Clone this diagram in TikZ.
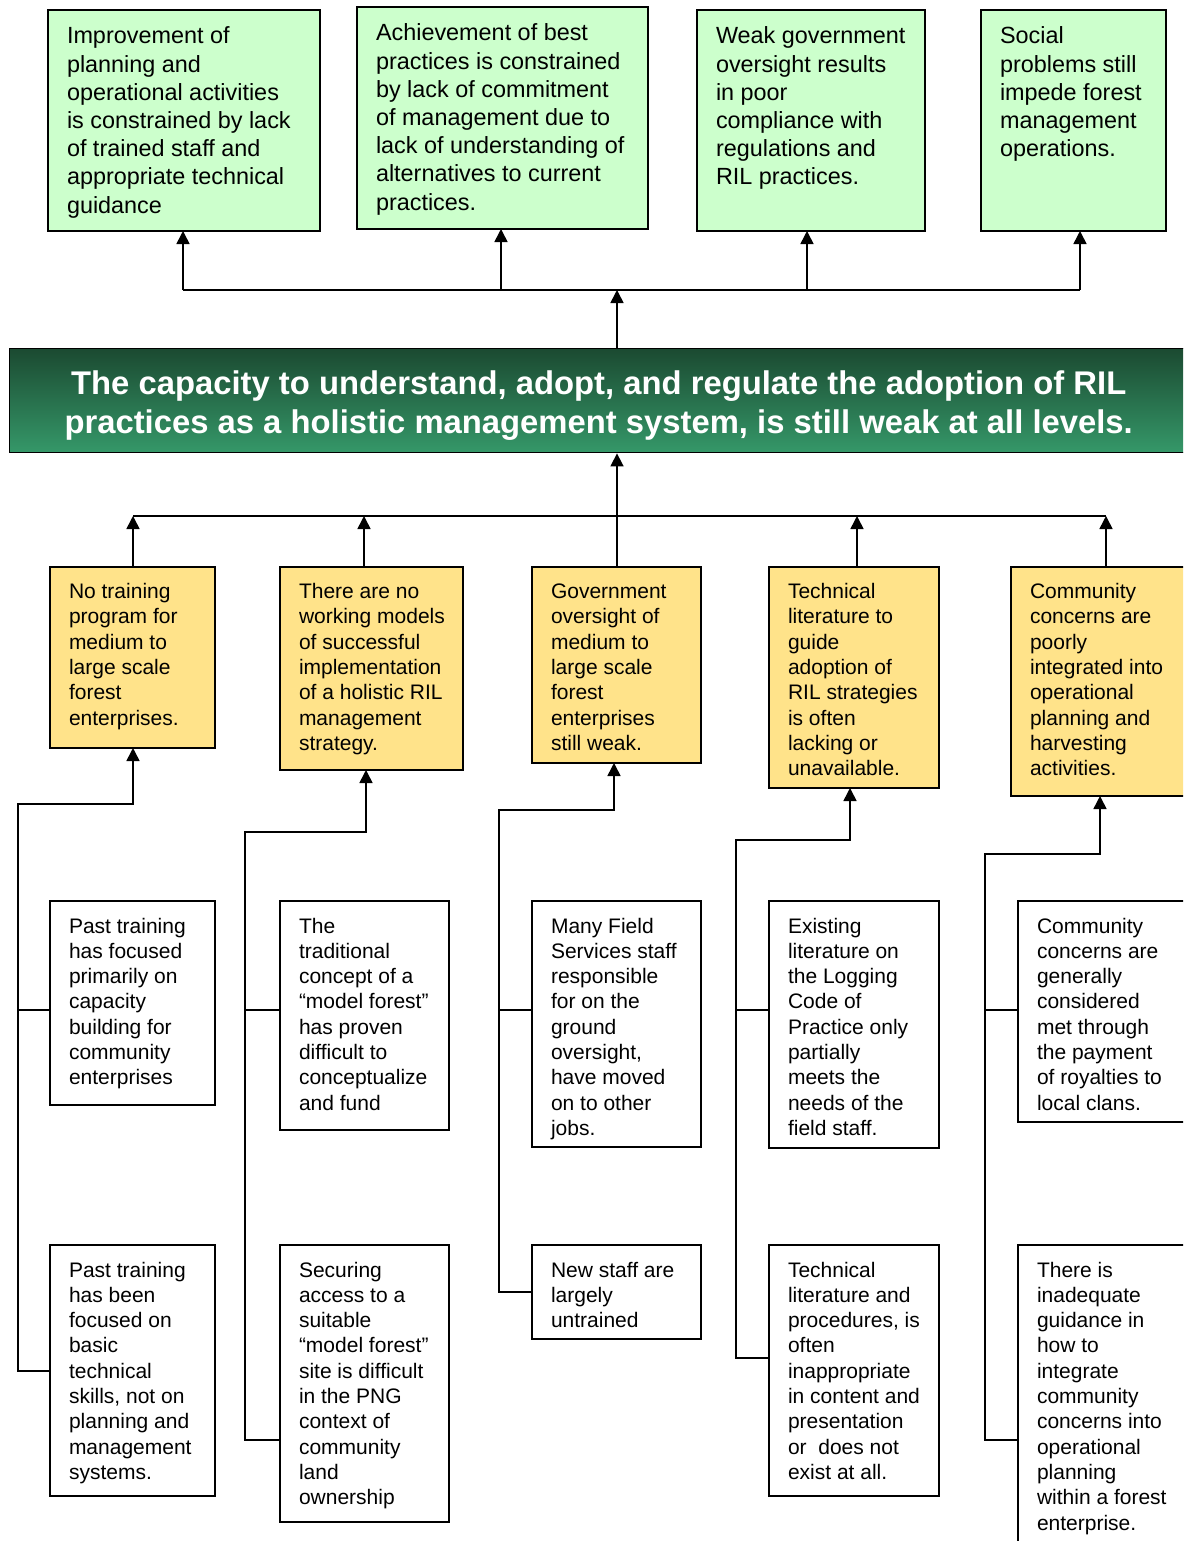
\documentclass[tikz,border=0pt]{standalone}
\usepackage{fontspec}
\setmainfont{Liberation Sans}
\usetikzlibrary{arrows.meta}
\definecolor{gbox}{HTML}{CCFFCC}
\definecolor{ybox}{HTML}{FFE38A}
\definecolor{bantop}{RGB}{27,74,49}
\definecolor{banbot}{RGB}{53,152,105}
\newcommand\bxt[4]{\parbox[c][#2pt][t]{#1pt}{\raggedright\leftskip=19pt\rule{0pt}{#3pt}#4}}
\begin{document}
\begin{tikzpicture}[x=1pt,y=-1pt,
  box/.style={draw=black, line width=1.6pt, anchor=north west, inner sep=0pt, outer sep=0pt},
  gbx/.style={box, fill=gbox, font=\fontsize{23.4}{28.2}\selectfont},
  ybx/.style={box, fill=ybox, font=\fontsize{21}{25.3}\selectfont},
  wbx/.style={box, fill=white, font=\fontsize{21}{25.3}\selectfont},
  ln/.style={line width=1.6pt},
  arr/.style={line width=1.6pt, -{Triangle[length=13pt,width=13pt]}},
]
\useasboundingbox (0,0) rectangle (1183,1541);
\clip (0,0) rectangle (1183,1541);
\fill[white] (0,0) rectangle (1183,1541);

% top green boxes
\node[gbx] (g1) at (48,10) {\bxt{272}{221}{34}{Improvement of\\planning and\\operational activities\\is constrained by lack\\of trained staff and\\appropriate technical\\guidance}};
\node[gbx] (g2) at (357,7) {\bxt{291}{222}{34}{Achievement of best\\practices is constrained\\by lack of commitment\\of management due to\\lack of understanding of\\alternatives to current\\practices.}};
\node[gbx] (g3) at (697,10) {\bxt{228}{221}{34}{Weak government\\oversight results\\in poor\\compliance with\\regulations and\\RIL practices.}};
\node[gbx] (g4) at (981,10) {\bxt{185}{221}{34}{Social\\problems still\\impede forest\\management\\operations.}};

% banner
\node[draw=black, line width=1.4pt, top color=bantop, bottom color=banbot, anchor=north west,
      minimum width=1178pt, minimum height=104pt, inner sep=0pt] (ban) at (9,348) {};
\node[align=center, text=white, inner sep=0pt, font=\fontsize{32.8}{39}\selectfont\bfseries]
  (bantxt) at ([yshift=-5pt]ban.center)
  {The capacity to understand, adopt, and regulate the adoption of RIL\\practices as a holistic management system, is still weak at all levels.};

% yellow boxes
\node[ybx] (y1) at (50,567) {\bxt{165}{181}{31.5}{No training\\program for\\medium to\\large scale\\forest\\enterprises.}};
\node[ybx] (y2) at (280,567) {\bxt{183}{203}{31.5}{There are no\\working models\\of successful\\implementation\\of a holistic RIL\\management\\strategy.}};
\node[ybx] (y3) at (532,567) {\bxt{169}{196}{31.5}{Government\\oversight of\\medium to\\large scale\\forest\\enterprises\\still weak.}};
\node[ybx] (y4) at (769,567) {\bxt{170}{221}{31.5}{Technical\\literature to\\guide\\adoption of\\RIL strategies\\is often\\lacking or\\unavailable.}};
\node[ybx] (y5) at (1011,567) {\bxt{180}{229}{31.5}{Community\\concerns are\\poorly\\integrated into\\operational\\planning and\\harvesting\\activities.}};

% white boxes row 1
\node[wbx] (w1a) at (50,901) {\bxt{165}{204}{32}{Past training\\has focused\\primarily on\\capacity\\building for\\community\\enterprises}};
\node[wbx] (w2a) at (280,901) {\bxt{169}{229}{32}{The\\traditional\\concept of a\\“model forest”\\has proven\\difficult to\\conceptualize\\and fund}};
\node[wbx] (w3a) at (532,901) {\bxt{169}{246}{32}{Many Field\\Services staff\\responsible\\for on the\\ground\\oversight,\\have moved\\on to other\\jobs.}};
\node[wbx] (w4a) at (769,901) {\bxt{170}{247}{32}{Existing\\literature on\\the Logging\\Code of\\Practice only\\partially\\meets the\\needs of the\\field staff.}};
\node[wbx] (w5a) at (1018,901) {\bxt{173}{221}{32}{Community\\concerns are\\generally\\considered\\met through\\the payment\\of royalties to\\local clans.}};

% white boxes row 2
\node[wbx] (w1b) at (50,1245) {\bxt{165}{251}{32}{Past training\\has been\\focused on\\basic\\technical\\skills, not on\\planning and\\management\\systems.}};
\node[wbx] (w2b) at (280,1245) {\bxt{169}{277}{32}{Securing\\access to a\\suitable\\“model forest”\\site is difficult\\in the PNG\\context of\\community\\land\\ownership}};
\node[wbx] (w3b) at (532,1245) {\bxt{169}{94}{32}{New staff are\\largely\\untrained}};
\node[wbx] (w4b) at (769,1245) {\bxt{170}{251}{32}{Technical\\literature and\\procedures, is\\often\\inappropriate\\in content and\\presentation\\or\ \ does not\\exist at all.}};
\node[wbx] (w5b) at (1018,1245) {\bxt{173}{310}{32}{There is\\inadequate\\guidance in\\how to\\integrate\\community\\concerns into\\operational\\planning\\within a forest\\enterprise.}};

% top connectors
\coordinate (tl) at (183,290);
\coordinate (t2) at (501,290);
\coordinate (tb) at (617,290);
\coordinate (t3) at (807,290);
\coordinate (tr) at (1080,290);
\draw[ln] (tl) -- (tr);
\draw[arr] (tb |- ban.north) -- (tb);
\draw[arr] (tl) -- (tl |- g1.south);
\draw[arr] (t2) -- (t2 |- g2.south);
\draw[arr] (t3) -- (t3 |- g3.south);
\draw[arr] (tr) -- (tr |- g4.south);

% middle connectors
\coordinate (m1) at (133,516);
\coordinate (m2) at (364,516);
\coordinate (mb) at (617,516);
\coordinate (m4) at (857,516);
\coordinate (m5) at (1106,516);
\draw[ln] (m1) -- (m5);
\draw[arr] (mb |- y3.north) -- (mb |- ban.south);
\draw[arr] (m1 |- y1.north) -- (m1);
\draw[arr] (m2 |- y2.north) -- (m2);
\draw[arr] (m4 |- y4.north) -- (m4);
\draw[arr] (m5 |- y5.north) -- (m5);

% bottom connectors
\coordinate (v1) at (18,804);  \coordinate (a1) at (133,804);  \coordinate (j1) at (18,1371);  \coordinate (b1) at (18,1010);
\coordinate (v2) at (245,832); \coordinate (a2) at (366,832);  \coordinate (j2) at (245,1440); \coordinate (b2) at (245,1010);
\coordinate (v3) at (499,810); \coordinate (a3) at (614,810);  \coordinate (j3) at (499,1292); \coordinate (b3) at (499,1010);
\coordinate (v4) at (736,840); \coordinate (a4) at (850,840);  \coordinate (j4) at (736,1358); \coordinate (b4) at (736,1010);
\coordinate (v5) at (985,854); \coordinate (a5) at (1100,854); \coordinate (j5) at (985,1440); \coordinate (b5) at (985,1010);

\draw[arr] (j1 -| w1b.west) -- (j1) -- (v1) -- (a1) -- (a1 |- y1.south);
\draw[arr] (j2 -| w2b.west) -- (j2) -- (v2) -- (a2) -- (a2 |- y2.south);
\draw[arr] (j3 -| w3b.west) -- (j3) -- (v3) -- (a3) -- (a3 |- y3.south);
\draw[arr] (j4 -| w4b.west) -- (j4) -- (v4) -- (a4) -- (a4 |- y4.south);
\draw[arr] (j5 -| w5b.west) -- (j5) -- (v5) -- (a5) -- (a5 |- y5.south);
\draw[ln] (b1) -- (b1 -| w1a.west);
\draw[ln] (b2) -- (b2 -| w2a.west);
\draw[ln] (b3) -- (b3 -| w3a.west);
\draw[ln] (b4) -- (b4 -| w4a.west);
\draw[ln] (b5) -- (b5 -| w5a.west);
\end{tikzpicture}
\end{document}
